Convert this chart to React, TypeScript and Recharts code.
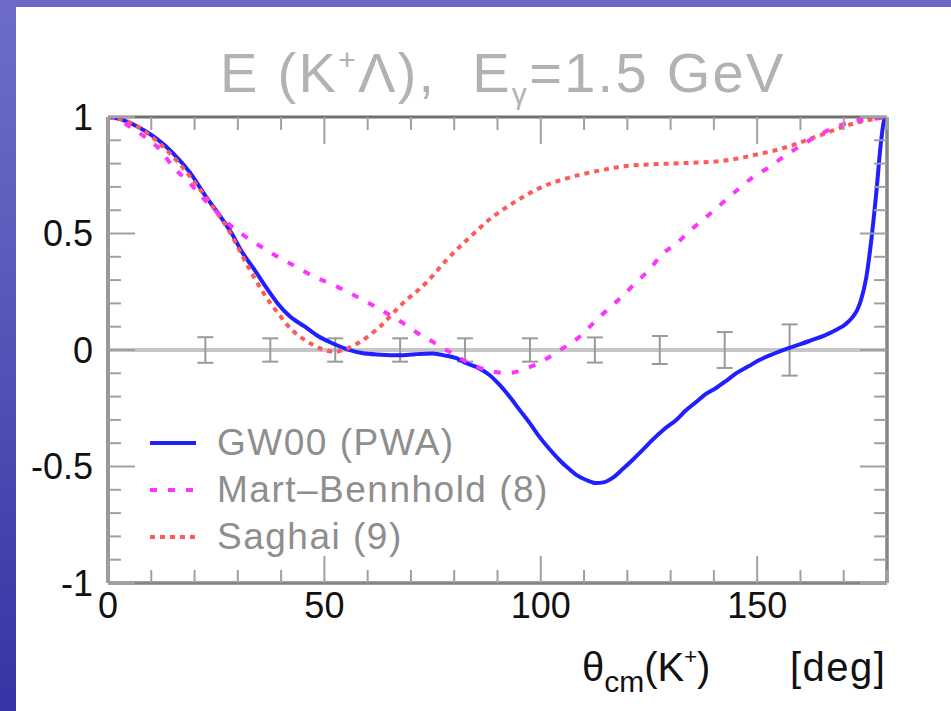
import { ComposedChart, ErrorBar, Legend, Line, ReferenceLine, Scatter, XAxis, YAxis } from 'recharts'

// GW00 partial-wave solution
const gwAngle = [
  0, 3, 7, 11, 15, 19, 22.4, 25.5, 28.6, 31, 33.9, 36.5, 39.2, 42, 45.5, 48.5, 51.7, 55, 58.6, 63, 67.4,
  71, 75, 78.2, 80.5, 82.8, 85.8, 88, 90.5, 93, 95.1, 97.5, 99.7, 102, 104.3, 106.5, 108.2, 110.5, 112.8,
  114.5, 116.5, 119, 121.2, 123.5, 125.8, 128.5, 131.3, 133.5, 135.9, 138, 140.5, 143, 145.2, 148, 150.5,
  154, 157.4, 160, 162.7, 165.5, 168.2, 170.5, 172, 173.2, 174, 175.2, 176.3, 177.5, 178.6, 179.4, 180,
]
const gwE = [
  1, 0.99, 0.957, 0.91, 0.845, 0.76, 0.665, 0.585, 0.5, 0.42, 0.343, 0.27, 0.2, 0.145, 0.1, 0.06, 0.03,
  0.005, -0.013, -0.02, -0.023, -0.018, -0.015, -0.025, -0.035, -0.057, -0.079, -0.105, -0.15, -0.205,
  -0.257, -0.315, -0.373, -0.425, -0.472, -0.51, -0.536, -0.558, -0.571, -0.568, -0.55, -0.51, -0.472,
  -0.43, -0.386, -0.34, -0.3, -0.26, -0.223, -0.19, -0.163, -0.13, -0.099, -0.07, -0.043, -0.015, 0.009,
  0.025, 0.043, 0.062, 0.086, 0.112, 0.14, 0.175, 0.215, 0.31, 0.46, 0.67, 0.89, 0.99, 1,
]

// Mart-Bennhold isobar model
const mbAngle = [
  0, 1, 4.5, 8.5, 12.5, 15, 18.2, 21.7, 24.7, 28.2, 31.6, 35.5, 39.2, 43.6, 47.8, 51.7, 55.8, 59.8, 63.9,
  67.8, 71.5, 75.5, 78.9, 82.8, 87.5, 92.3, 96.9, 100.8, 104.8, 108.5, 111.7, 115.2, 118.8, 122, 125, 128,
  131.5, 135, 138.5, 141.9, 145.4, 148.9, 152.8, 156.7, 160.4, 165, 172, 178, 180,
]
const mbE = [
  1, 0.996, 0.965, 0.914, 0.85, 0.785, 0.73, 0.657, 0.6, 0.536, 0.489, 0.442, 0.4, 0.356, 0.313, 0.283,
  0.245, 0.206, 0.163, 0.12, 0.073, 0.03, -0.008, -0.05, -0.086, -0.099, -0.077, -0.043, 0.004, 0.05,
  0.107, 0.17, 0.23, 0.29, 0.343, 0.41, 0.46, 0.52, 0.575, 0.63, 0.687, 0.74, 0.785, 0.837, 0.88, 0.93,
  0.98, 0.995, 1,
]

// Saghai model
const sgAngle = [
  0, 4, 8, 12, 16, 20, 24, 28, 32.3, 35.5, 39.2, 42.5, 45.5, 49.4, 52.4, 55, 58.2, 62.8, 68.1, 73.6, 78.2,
  82.8, 88.8, 94.4, 99.7, 106.6, 113.5, 119.8, 129.7, 141.2, 148.9, 156.7, 164.3, 172, 178.8, 180,
]
const sgE = [
  1, 0.985, 0.945, 0.885, 0.81, 0.72, 0.62, 0.51, 0.36, 0.257, 0.16, 0.086, 0.043, 0.004, -0.008, 0.005,
  0.034, 0.1, 0.2, 0.29, 0.386, 0.47, 0.57, 0.64, 0.695, 0.74, 0.77, 0.79, 0.8, 0.81, 0.835, 0.87, 0.92,
  0.97, 0.997, 1,
]

// projected uncertainties
const binAngle = [22.5, 37.5, 52.5, 67.5, 82.5, 97.5, 112.5, 127.5, 142.5, 157.5]
const binE = [0, 0, 0, 0, 0, 0, 0, 0, 0, 0]
const binErr = [0.055, 0.05, 0.05, 0.05, 0.05, 0.05, 0.054, 0.06, 0.077, 0.11]

const xTicks = [0, 10, 20, 30, 40, 50, 60, 70, 80, 90, 100, 110, 120, 130, 140, 150, 160, 170, 180]
const yTicks = [
  -1, -0.9, -0.8, -0.7, -0.6, -0.5, -0.4, -0.3, -0.2, -0.1, 0, 0.1, 0.2, 0.3, 0.4, 0.5, 0.6, 0.7, 0.8,
  0.9, 1,
]

const toPoints = (xs: number[], ys: number[]) => xs.map((x, i) => ({ x, e: ys[i] }))

const gwData = toPoints(gwAngle, gwE)
const mbData = toPoints(mbAngle, mbE)
const sgData = toPoints(sgAngle, sgE)
const binData = binAngle.map((x, i) => ({ x, e: binE[i], err: binErr[i] }))

const SERIES = [
  { key: 'gw', name: 'GW00 (PWA)', color: '#1f1fff', dash: undefined as string | undefined, data: gwData },
  { key: 'sg', name: 'Saghai (9)', color: '#ff5a5a', dash: '5 5', data: sgData },
  { key: 'mb', name: 'Mart–Bennhold (8)', color: '#ff33ff', dash: '7 11', data: mbData },
]
const LEGEND_ORDER = ['gw', 'mb', 'sg']

const FONT = '"Liberation Sans", Arial, sans-serif'
const TICK = '#a0a0a0'
const FRAME = '#858585'
const MAJOR = 27
const MINOR = 13

const isMajorX = (v: number) => v % 50 === 0
const isMajorY = (v: number) => Math.abs(v * 2 - Math.round(v * 2)) < 1e-6

function BottomTick({ x, y, payload }: any) {
  const v = payload.value
  const major = isMajorX(v)
  return (
    <g>
      <line x1={x} x2={x} y1={y} y2={y - (major ? MAJOR : MINOR)} stroke={TICK} strokeWidth={2} />
      {major && v !== 180 && (
        <text x={x} y={y + 35} textAnchor="middle" fontSize={36} fontFamily={FONT} fill="#111">
          {v}
        </text>
      )}
    </g>
  )
}

function TopTick({ x, y, payload }: any) {
  const major = isMajorX(payload.value)
  return <line x1={x} x2={x} y1={y} y2={y + (major ? MAJOR : MINOR)} stroke={TICK} strokeWidth={2} />
}

function LeftTick({ x, y, payload }: any) {
  const v = payload.value
  const major = isMajorY(v)
  return (
    <g>
      <line x1={x} x2={x + (major ? MAJOR : MINOR)} y1={y} y2={y} stroke={TICK} strokeWidth={2} />
      {major && (
        <text x={x - 15} y={y} dy="0.36em" textAnchor="end" fontSize={36} fontFamily={FONT} fill="#111">
          {String(Math.round(v * 10) / 10)}
        </text>
      )}
    </g>
  )
}

function RightTick({ x, y, payload }: any) {
  const major = isMajorY(payload.value)
  return <line x1={x} x2={x - (major ? MAJOR : MINOR)} y1={y} y2={y} stroke={TICK} strokeWidth={2} />
}

function TitleLabel({ viewBox }: any) {
  const { x, y, height } = viewBox
  return (
    <text x={x + 112} y={y + height - 25} fontSize={56} fontFamily={FONT} fill="#b2b2b2" letterSpacing={2.3}>
      <tspan>E (K</tspan>
      <tspan fontSize={30} dy={-22}>+</tspan>
      <tspan dy={22}>{'Λ),\u00a0\u00a0E'}</tspan>
      <tspan fontSize={30} dy={12}>γ</tspan>
      <tspan dy={-12}>=1.5 GeV</tspan>
    </text>
  )
}

function AngleLabel({ viewBox }: any) {
  const { x, y } = viewBox
  return (
    <g fontFamily={FONT} fill="#111">
      <text x={x + 474} y={y + 98} fontSize={40}>
        <tspan>θ</tspan>
        <tspan fontSize={30} dy={11}>cm</tspan>
        <tspan dy={-11}>(K</tspan>
        <tspan fontSize={22} dy={-17}>+</tspan>
        <tspan dy={17}>)</tspan>
      </text>
      <text x={x + 682} y={y + 98} fontSize={40} letterSpacing={1.5}>
        [deg]
      </text>
    </g>
  )
}

function LegendBox() {
  return (
    <div style={{ fontFamily: FONT, color: '#8e8e8e', fontSize: 37, letterSpacing: 1.5 }}>
      {LEGEND_ORDER.map((k) => {
        const s = SERIES.find((d) => d.key === k)!
        return (
          <div key={k} style={{ display: 'flex', alignItems: 'center', height: 47 }}>
            <svg width={67} height={10} style={{ flex: 'none' }}>
              <line x1={0} x2={46} y1={5} y2={5} stroke={s.color} strokeWidth={4} strokeDasharray={s.dash} />
            </svg>
            <span style={{ whiteSpace: 'nowrap', lineHeight: '47px' }}>{s.name}</span>
          </div>
        )
      })}
    </div>
  )
}

export default function App() {
  return (
    <div
      style={{
        position: 'absolute',
        left: 0,
        top: 0,
        width: 951,
        height: 711,
        overflow: 'hidden',
        background: 'linear-gradient(to bottom, #6c6cc8 0%, #5c5cbc 35%, #4646b0 70%, #3434a6 100%)',
      }}
    >
      <div style={{ position: 'absolute', left: 16, top: 7, right: 0, bottom: 0, background: '#fff' }} />
      <div style={{ position: 'absolute', left: 0, top: 0 }}>
        <ComposedChart width={951} height={711} margin={{ top: 0, right: 44, bottom: 0, left: 0 }}>
          <XAxis
            xAxisId="bottom"
            dataKey="x"
            type="number"
            domain={[0, 180]}
            allowDataOverflow
            ticks={xTicks}
            interval={0}
            height={128}
            tickSize={0}
            tickMargin={0}
            tick={<BottomTick />}
            axisLine={{ stroke: FRAME, strokeWidth: 3.5 }}
            label={<AngleLabel />}
          />
          <XAxis
            xAxisId="top"
            orientation="top"
            dataKey="x"
            type="number"
            domain={[0, 180]}
            allowDataOverflow
            ticks={xTicks}
            interval={0}
            height={117}
            tickSize={0}
            tickMargin={0}
            tick={<TopTick />}
            axisLine={{ stroke: '#707070', strokeWidth: 3 }}
            label={<TitleLabel />}
          />
          <YAxis
            yAxisId="left"
            dataKey="e"
            type="number"
            domain={[-1, 1]}
            allowDataOverflow
            ticks={yTicks}
            interval={0}
            width={108}
            tickSize={0}
            tickMargin={0}
            tick={<LeftTick />}
            axisLine={{ stroke: '#999', strokeWidth: 4 }}
          />
          <YAxis
            yAxisId="right"
            orientation="right"
            dataKey="e"
            type="number"
            domain={[-1, 1]}
            allowDataOverflow
            ticks={yTicks}
            interval={0}
            width={20}
            tickSize={0}
            tickMargin={0}
            tick={<RightTick />}
            axisLine={{ stroke: FRAME, strokeWidth: 3.5 }}
          />
          <ReferenceLine xAxisId="bottom" yAxisId="left" y={0} stroke="#c6c6c6" strokeWidth={4} />
          <Scatter
            xAxisId="top"
            yAxisId="right"
            data={binData}
            shape={() => <g />}
            legendType="none"
            isAnimationActive={false}
          >
            <ErrorBar dataKey="err" direction="y" width={8} strokeWidth={2} stroke="#9a9a9a" isAnimationActive={false} />
          </Scatter>
          {SERIES.map((s) => (
            <Line
              key={s.key}
              xAxisId="bottom"
              yAxisId="left"
              data={s.data}
              dataKey="e"
              name={s.name}
              type="monotone"
              stroke={s.color}
              strokeWidth={4}
              strokeDasharray={s.dash}
              dot={false}
              activeDot={false}
              isAnimationActive={false}
            />
          ))}
          <Legend
            layout="vertical"
            align="center"
            verticalAlign="middle"
            content={<LegendBox />}
            wrapperStyle={{ left: 150, top: 419, width: 'auto', right: 'auto', bottom: 'auto' }}
          />
        </ComposedChart>
      </div>
    </div>
  )
}
